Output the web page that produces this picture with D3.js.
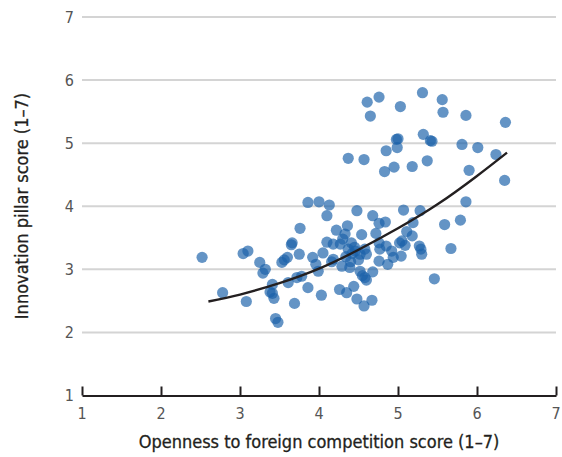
<!DOCTYPE html>
<html>
<head>
<meta charset="utf-8">
<script src="https://cdn.jsdelivr.net/npm/d3@7"></script>
<style>
  body { margin: 0; background: #fff; }
  text { font-family: "Liberation Sans Narrow", "DejaVu Sans Condensed", "Liberation Sans", sans-serif; }
</style>
</head>
<body>
<div id="chart"></div>
<script>
// openness to foreign competition (x) vs innovation pillar (y), one per country
var openness = [
  4.61, 4.76, 4.65, 5.03, 5.31, 5.56, 5.57, 5.86, 6.36,
  4.98, 5.00, 5.32, 5.41, 5.43, 4.99, 4.85, 4.57, 5.81, 6.01, 6.24,
  4.83, 4.95, 5.18, 5.37, 5.90, 6.35, 5.86,
  4.37, 3.86, 4.00, 4.13,
  2.52, 3.04, 3.10, 3.25, 3.32, 3.29, 2.78, 3.08, 3.41, 3.38, 3.43, 3.41, 3.45, 3.48,
  3.66, 3.65, 3.56, 3.60, 3.53, 3.76, 3.61, 3.69, 3.75, 3.72, 3.78,
  4.10, 4.48, 4.68, 4.76, 4.84, 4.22, 4.36, 4.33, 4.54, 4.72, 4.30, 4.10, 4.18, 4.27,
  4.41, 4.76, 4.85, 5.02, 4.37, 4.46, 4.58, 4.77, 4.92, 3.92, 4.05, 4.18, 4.34, 4.52,
  4.60, 3.96, 4.16, 4.29, 4.39, 4.52, 4.76, 4.87, 4.94, 3.99, 4.58, 4.55, 4.60, 4.68,
  4.44, 4.26, 4.35, 3.86, 4.03, 4.48, 4.57, 4.67,
  5.07, 5.28, 5.19, 5.59, 5.79, 5.11, 5.18, 5.05, 5.09, 5.27, 5.29, 5.30, 5.67, 5.04, 5.46,
  4.42, 4.45, 4.50, 4.40
];
var innovation = [
  5.65, 5.73, 5.43, 5.58, 5.80, 5.69, 5.49, 5.44, 5.33,
  5.06, 5.07, 5.14, 5.04, 5.03, 4.93, 4.88, 4.74, 4.98, 4.93, 4.82,
  4.55, 4.62, 4.63, 4.72, 4.57, 4.41, 4.07,
  4.76, 4.06, 4.07, 4.02,
  3.19, 3.25, 3.29, 3.11, 3.00, 2.94, 2.63, 2.49, 2.76, 2.64, 2.54, 2.62, 2.22, 2.16,
  3.42, 3.39, 3.15, 3.19, 3.11, 3.65, 2.79, 2.46, 3.24, 2.87, 2.89,
  3.85, 3.93, 3.85, 3.73, 3.75, 3.62, 3.69, 3.56, 3.55, 3.57, 3.48, 3.43, 3.40, 3.40,
  3.42, 3.42, 3.37, 3.42, 3.32, 3.29, 3.32, 3.32, 3.29, 3.19, 3.26, 3.16, 3.20, 3.24,
  3.24, 3.08, 3.12, 3.05, 3.03, 2.97, 3.13, 3.08, 3.19, 2.97, 2.87, 2.90, 2.83, 2.96,
  2.73, 2.68, 2.63, 2.71, 2.59, 2.53, 2.42, 2.51,
  3.94, 3.93, 3.74, 3.71, 3.78, 3.60, 3.53, 3.45, 3.38, 3.37, 3.32, 3.24, 3.33, 3.21, 2.85,
  3.25, 3.35, 3.15, 3.12
];
// trend curve
var trendX = [2.60, 3.00, 3.50, 4.00, 4.50, 5.00, 5.50, 6.00, 6.38];
var trendY = [2.49, 2.60, 2.78, 3.01, 3.31, 3.65, 4.03, 4.48, 4.85];
var ticks = [1, 2, 3, 4, 5, 6, 7];

var xTitle = "Openness to foreign competition score (1\u20137)";
var yTitle = "Innovation pillar score (1\u20137)";

var W = 562, H = 457;
var svg = d3.select("#chart").append("svg")
    .attr("width", W)
    .attr("height", H);

var x = d3.scaleLinear().domain([1, 7]).range([82, 556]);
var y = d3.scaleLinear().domain([1, 7]).range([395.5, 17]);

// gridlines
svg.append("g")
    .selectAll("line")
    .data(ticks.slice(1))
    .enter().append("line")
    .attr("x1", x(1))
    .attr("x2", x(7))
    .attr("y1", function (d) { return y(d); })
    .attr("y2", function (d) { return y(d); })
    .attr("stroke", "#d4d4d4")
    .attr("stroke-width", 2);

// y tick labels
svg.append("g")
    .selectAll("text")
    .data(ticks)
    .enter().append("text")
    .attr("x", 74)
    .attr("y", function (d) { return y(d); })
    .attr("dy", "0.36em")
    .attr("text-anchor", "end")
    .attr("font-size", 16)
    .attr("fill", "#555")
    .text(function (d) { return d; });

// x axis
var xAxis = svg.append("g")
    .attr("transform", "translate(0," + y(1) + ")")
    .call(d3.axisTop(x).tickValues(ticks).tickSize(9).tickSizeOuter(0).tickFormat(""));
xAxis.select(".domain").attr("stroke", "#231f20").attr("stroke-width", 2.2);
xAxis.selectAll(".tick line").attr("stroke", "#231f20").attr("stroke-width", 2);

svg.append("g")
    .selectAll("text")
    .data(ticks)
    .enter().append("text")
    .attr("x", function (d) { return x(d); })
    .attr("y", 419)
    .attr("text-anchor", "middle")
    .attr("font-size", 16)
    .attr("fill", "#555")
    .text(function (d) { return d; });

// axis titles
svg.append("text")
    .attr("x", 319)
    .attr("y", 448)
    .attr("text-anchor", "middle")
    .attr("font-size", 18)
    .attr("fill", "#231f20")
    .attr("stroke", "#231f20")
    .attr("stroke-width", 0.3)
    .text(xTitle);

svg.append("text")
    .attr("transform", "translate(28,206) rotate(-90)")
    .attr("text-anchor", "middle")
    .attr("font-size", 18)
    .attr("fill", "#231f20")
    .attr("stroke", "#231f20")
    .attr("stroke-width", 0.3)
    .text(yTitle);

// points
var pts = openness.map(function (v, i) { return [v, innovation[i]]; });
svg.append("g")
    .selectAll("circle")
    .data(pts)
    .enter().append("circle")
    .attr("cx", function (d) { return x(d[0]); })
    .attr("cy", function (d) { return y(d[1]); })
    .attr("r", 5.6)
    .attr("fill", "#1a62a9")
    .attr("fill-opacity", 0.68);

// trend curve
var trend = trendX.map(function (v, i) { return [v, trendY[i]]; });
svg.append("path")
    .datum(trend)
    .attr("fill", "none")
    .attr("stroke", "#231f20")
    .attr("stroke-width", 2.4)
    .attr("d", d3.line()
        .curve(d3.curveNatural)
        .x(function (d) { return x(d[0]); })
        .y(function (d) { return y(d[1]); }));
</script>
</body>
</html>
